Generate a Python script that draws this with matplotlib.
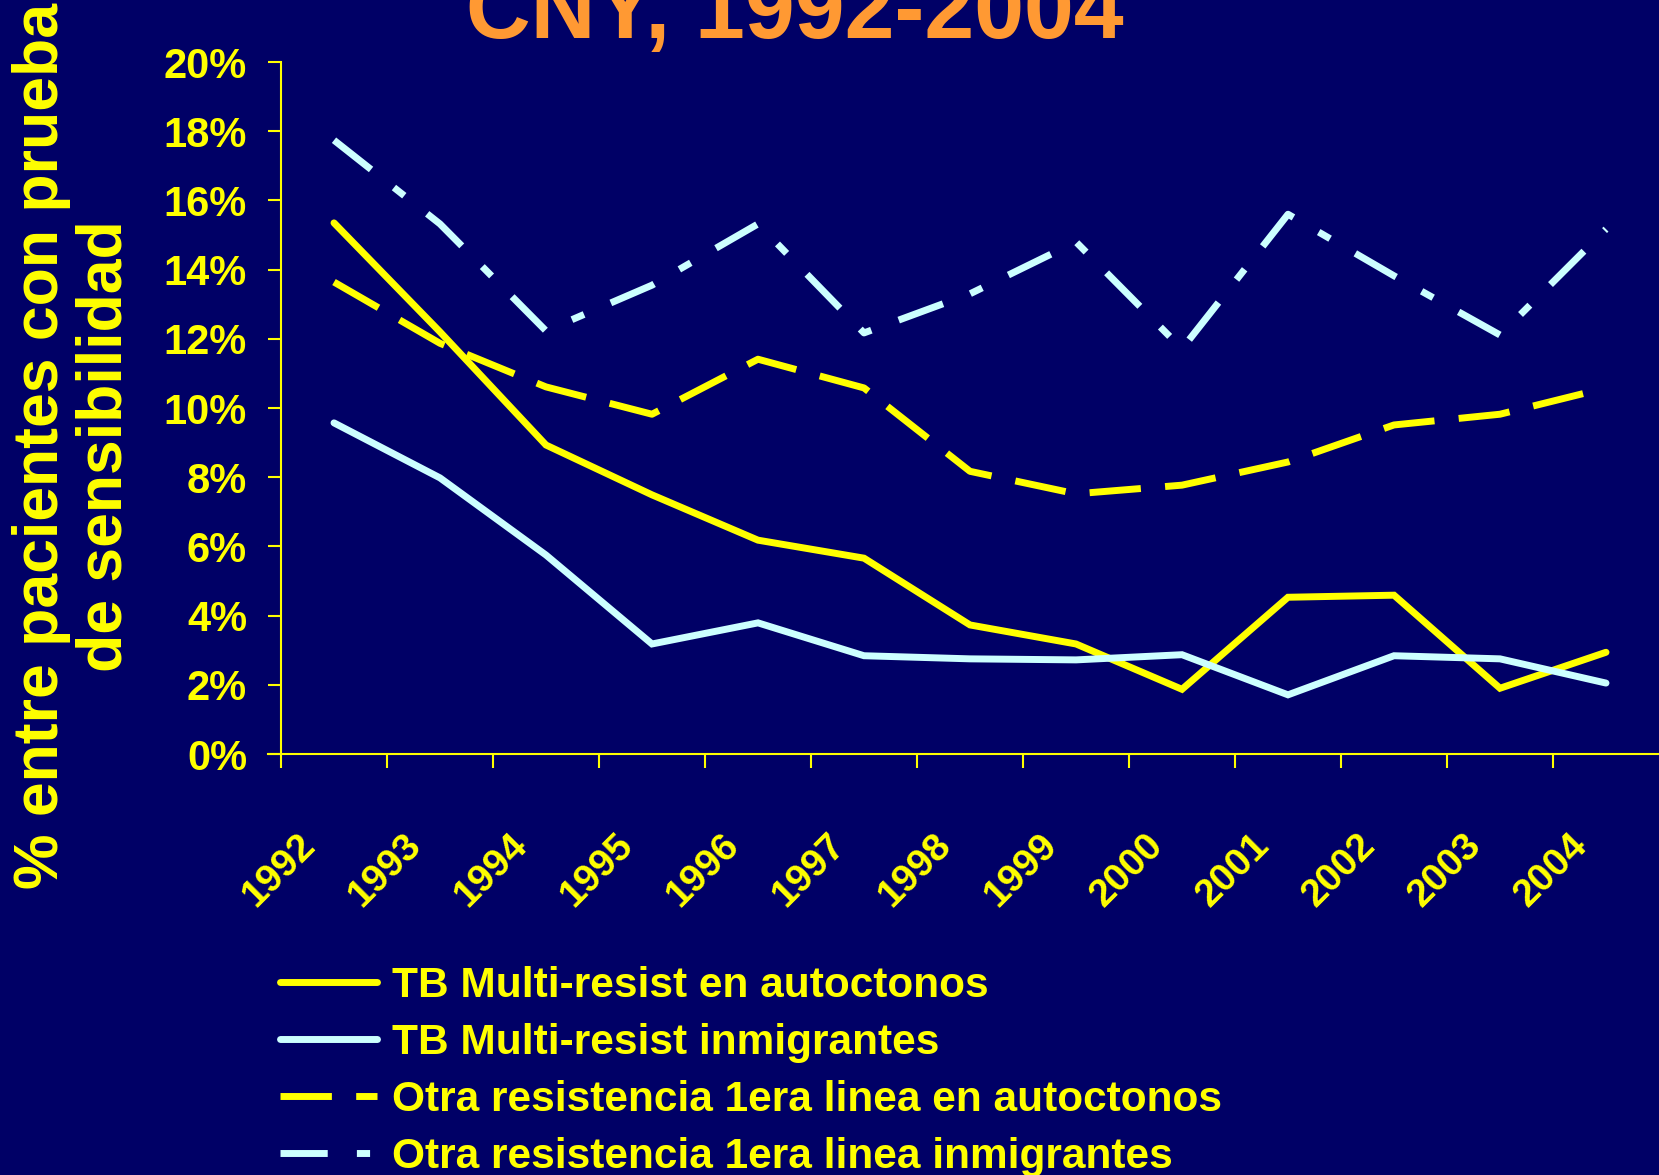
import matplotlib
matplotlib.use("Agg")
import matplotlib.pyplot as plt
import matplotlib.transforms as mtransforms
from matplotlib.ticker import FixedLocator, FuncFormatter

years = ["1992", "1993", "1994", "1995", "1996", "1997", "1998",
         "1999", "2000", "2001", "2002", "2003", "2004"]
mdr_autoctonos = [15.35, 12.2, 8.93, 7.49, 6.18, 5.66, 3.73, 3.18, 1.87, 4.53, 4.59, 1.90, 2.94]
mdr_inmigrantes = [9.57, 7.98, 5.75, 3.18, 3.79, 2.84, 2.75, 2.72, 2.87, 1.71, 2.84, 2.75, 2.05]
otra_autoctonos = [13.64, 11.87, 10.61, 9.82, 11.41, 10.58, 8.17, 7.52, 7.77, 8.44, 9.51, 9.82, 10.58]
otra_inmigrantes = [17.74, 15.32, 12.23, 13.55, 15.32, 12.17, 13.30, 14.80, 11.71, 15.60, 13.82, 12.11, 15.17]
labels = ["TB Multi-resist en autoctonos",
          "TB Multi-resist inmigrantes",
          "Otra resistencia 1era linea en autoctonos",
          "Otra resistencia 1era linea inmigrantes"]
title = "CNY, 1992-2004"
ylabel = "% entre pacientes con prueba\nde sensibilidad"
yticks = [0, 2, 4, 6, 8, 10, 12, 14, 16, 18, 20]

BG = "#000066"
YEL = "#FFFF00"
BLU = "#CCFFFF"
ORANGE = "#FF9933"
ARIAL = ["Liberation Sans", "DejaVu Sans"]

W, H = 1659, 1175
fig = plt.figure(figsize=(W / 100, H / 100), dpi=100, facecolor=BG)
ax = fig.add_axes([281 / W, 1 - 754 / H, (W - 281) / W, (754 - 62) / H])
ax.set_facecolor(BG)

x = list(range(len(years)))
lw = 5
ax.plot(x, mdr_autoctonos, color=YEL, lw=lw, solid_capstyle="round", solid_joinstyle="miter", label=labels[0])
ax.plot(x, mdr_inmigrantes, color=BLU, lw=lw, solid_capstyle="round", solid_joinstyle="miter", label=labels[1])
ax.plot(x, otra_autoctonos, color=YEL, lw=lw, linestyle=(0, (7.4, 3.5)), dash_capstyle="butt", label=labels[2])
ax.plot(x, otra_inmigrantes, color=BLU, lw=lw, linestyle=(0, (6.8, 4.2, 1.9, 4.2)), dash_capstyle="butt", label=labels[3])

ax.set_xlim(-0.5, len(years) - 0.5)
ax.set_ylim(0, 20)

for s in ["top", "right"]:
    ax.spines[s].set_visible(False)
for s in ["left", "bottom"]:
    ax.spines[s].set_color(YEL)
    ax.spines[s].set_linewidth(1.5)
ax.spines["bottom"].set_bounds(-0.5 - 13 / 106, len(years) - 0.5)

ax.yaxis.set_major_locator(FixedLocator(yticks))
ax.yaxis.set_major_formatter(FuncFormatter(lambda v, p: f"{int(round(v))}%"))
ax.tick_params(axis="y", direction="out", length=9.4, width=1.5, color=YEL,
               labelcolor=YEL, pad=15)
for t in ax.get_yticklabels():
    t.set_fontfamily(ARIAL)
    t.set_fontweight("bold")
    t.set_fontsize(30)

ax.set_xticks([i - 0.5 for i in x])
ax.set_xticklabels(years)
ax.tick_params(axis="x", direction="out", length=10, width=1.5, color=YEL,
               labelcolor=YEL, pad=74)
shift = mtransforms.ScaledTranslation(-2 / 100, 0, fig.dpi_scale_trans)
for t in ax.get_xticklabels():
    t.set_fontfamily(ARIAL)
    t.set_fontweight("bold")
    t.set_fontsize(28)
    t.set_rotation(45)
    t.set_ha("center")
    t.set_va("center")
    t.set_transform(t.get_transform() + shift)

fig.text(73 / W, 1 - 446 / H, ylabel, rotation=90, ha="center", va="center",
         multialignment="center", color=YEL, fontsize=45, fontweight="bold",
         family=ARIAL, linespacing=1.1)

fig.text(795 / W, 1 - 38 / H, title, ha="center", va="baseline", color=ORANGE,
         fontsize=64.5, fontweight="bold", family=ARIAL)

leg = ax.legend(loc="upper left", bbox_to_anchor=(280 / W, 1 - 966 / H),
                bbox_transform=fig.transFigure, frameon=False,
                prop={"family": ARIAL, "weight": "bold", "size": 30.5},
                handlelength=2.3, handletextpad=0.35, labelspacing=0.4,
                borderpad=0, borderaxespad=0)
for t in leg.get_texts():
    t.set_color(YEL)

fig.savefig("out.png", dpi=100, facecolor=BG)
